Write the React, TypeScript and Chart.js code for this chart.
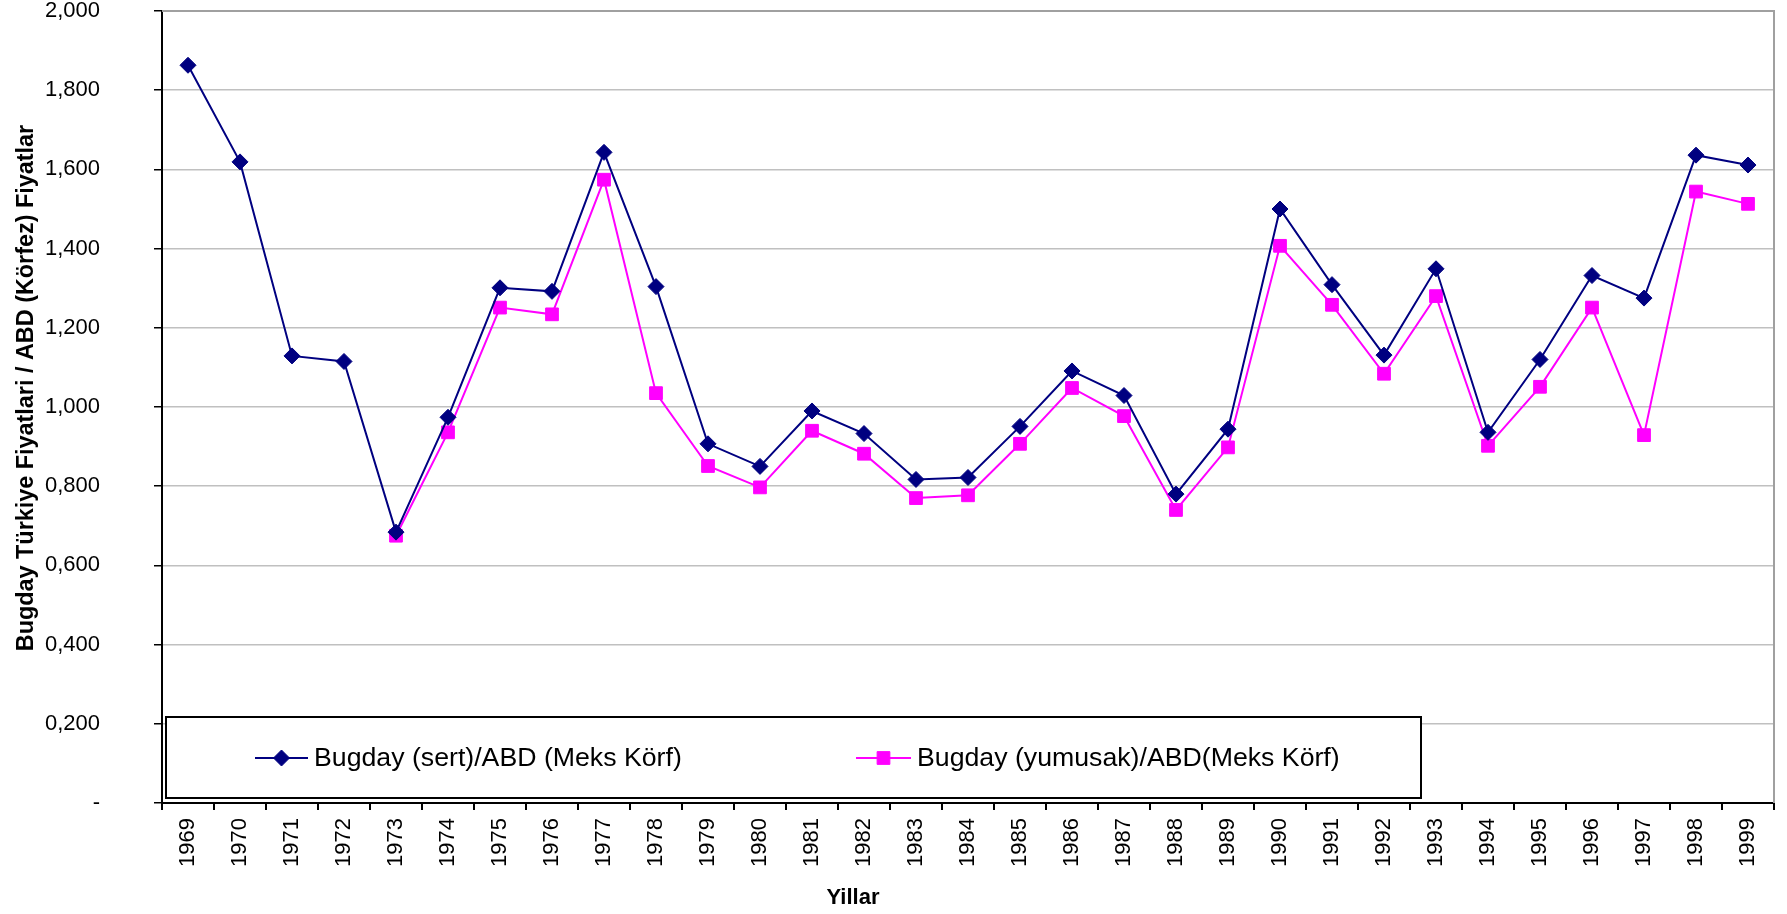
import React, { useEffect, useRef } from "react";
import { Chart, registerables } from "chart.js";

Chart.register(...registerables);

const years: string[] = [
  "1969", "1970", "1971", "1972", "1973", "1974", "1975", "1976", "1977", "1978",
  "1979", "1980", "1981", "1982", "1983", "1984", "1985", "1986", "1987", "1988",
  "1989", "1990", "1991", "1992", "1993", "1994", "1995", "1996", "1997", "1998", "1999",
];

const sertValues: (number | null)[] = [
  1.863, 1.619, 1.129, 1.115, 0.684, 0.974, 1.301, 1.292, 1.643, 1.304,
  0.907, 0.850, 0.990, 0.933, 0.817, 0.822, 0.951, 1.091, 1.029, 0.780,
  0.944, 1.500, 1.309, 1.131, 1.349, 0.936, 1.120, 1.332, 1.275, 1.636, 1.611,
];

const yumusakValues: (number | null)[] = [
  null, null, null, null, 0.675, 0.936, 1.251, 1.234, 1.574, 1.035,
  0.851, 0.797, 0.940, 0.882, 0.770, 0.777, 0.907, 1.048, 0.977, 0.740,
  0.898, 1.407, 1.258, 1.084, 1.280, 0.902, 1.051, 1.251, 0.929, 1.544, 1.513,
];

const seriesLabels: string[] = [
  "Bugday (sert)/ABD (Meks Körf)",
  "Bugday (yumusak)/ABD(Meks Körf)",
];

const yAxisTitle = "Bugday Türkiye Fiyatlari / ABD (Körfez) Fiyatlar";
const xAxisTitle = "Yillar";

const FONT = '"Liberation Sans", Arial, sans-serif';
const NAVY = "#000080";
const MAGENTA = "#FF00FF";
const GRID = "#c0c0c0";
const FRAME = "#a0a0a0";

const W = 1787;
const H = 914;

export default function App() {
  const ref = useRef<HTMLCanvasElement | null>(null);

  useEffect(() => {
    document.body.style.margin = "0";
    const canvas = ref.current;
    if (!canvas) return;

    const overlay = {
      id: "overlay",
      beforeDatasetsDraw(chart: any) {
        const ctx = chart.ctx as CanvasRenderingContext2D;
        const area = chart.chartArea;
        ctx.save();
        ctx.strokeStyle = FRAME;
        ctx.lineWidth = 2;
        ctx.beginPath();
        ctx.moveTo(area.left, area.top);
        ctx.lineTo(area.right, area.top);
        ctx.lineTo(area.right, area.bottom);
        ctx.stroke();
        ctx.fillStyle = "#fff";
        ctx.fillRect(166, 717, 1255, 81);
        ctx.strokeStyle = "#000";
        ctx.lineWidth = 2;
        ctx.strokeRect(166, 717, 1255, 81);
        const items = [
          { x1: 255, x2: 308, tx: 314, color: NAVY, style: "rectRot", r: 8, label: seriesLabels[0] },
          { x1: 856, x2: 911, tx: 917, color: MAGENTA, style: "rect", r: 9, label: seriesLabels[1] },
        ];
        const ly = 758;
        for (const it of items) {
          ctx.strokeStyle = it.color;
          ctx.lineWidth = 2;
          ctx.beginPath();
          ctx.moveTo(it.x1, ly);
          ctx.lineTo(it.x2, ly);
          ctx.stroke();
          ctx.fillStyle = it.color;
          ctx.lineWidth = 1;
          const cx = (it.x1 + it.x2) / 2;
          ctx.beginPath();
          if (it.style === "rectRot") {
            ctx.moveTo(cx, ly - it.r);
            ctx.lineTo(cx + it.r, ly);
            ctx.lineTo(cx, ly + it.r);
            ctx.lineTo(cx - it.r, ly);
            ctx.closePath();
          } else {
            const s = it.r * Math.SQRT1_2;
            ctx.rect(cx - s, ly - s, 2 * s, 2 * s);
          }
          ctx.fill();
          ctx.stroke();
          ctx.fillStyle = "#000";
          ctx.font = `26.7px ${FONT}`;
          ctx.textBaseline = "middle";
          ctx.textAlign = "left";
          ctx.fillText(it.label, it.tx, ly + 1);
        }
        ctx.restore();
      },
      afterDraw(chart: any) {
        const ctx = chart.ctx as CanvasRenderingContext2D;
        ctx.save();
        ctx.fillStyle = "#000";
        ctx.textAlign = "center";
        ctx.textBaseline = "middle";
        ctx.font = `bold 22px ${FONT}`;
        ctx.fillText(xAxisTitle, 853, 898);
        ctx.translate(27, 388);
        ctx.rotate(-Math.PI / 2);
        ctx.font = `bold 23.4px ${FONT}`;
        ctx.fillText(yAxisTitle, 0, 0);
        ctx.restore();
      },
    };

    const chart = new Chart(canvas, {
      type: "line",
      data: {
        labels: years,
        datasets: [
          {
            label: seriesLabels[0],
            data: sertValues,
            borderColor: NAVY,
            backgroundColor: NAVY,
            borderWidth: 2,
            pointStyle: "rectRot",
            pointRadius: 8,
            pointBorderWidth: 1,
            pointBorderColor: NAVY,
            pointBackgroundColor: NAVY,
            tension: 0,
            order: 1,
          },
          {
            label: seriesLabels[1],
            data: yumusakValues,
            borderColor: MAGENTA,
            backgroundColor: MAGENTA,
            borderWidth: 2,
            pointStyle: "rect",
            pointRadius: 9,
            pointBorderWidth: 1,
            pointBorderColor: MAGENTA,
            pointBackgroundColor: MAGENTA,
            tension: 0,
            spanGaps: false,
            order: 2,
          },
        ],
      },
      options: {
        responsive: false,
        animation: false,
        layout: { padding: { left: 0, top: 11, right: 13, bottom: 0 } },
        plugins: {
          legend: { display: false },
          tooltip: { enabled: false },
          title: { display: false },
        },
        scales: {
          x: {
            type: "category",
            offset: true,
            grid: {
              offset: true,
              drawOnChartArea: false,
              color: "#000",
              tickColor: "#000",
              tickLength: 7,
              lineWidth: 2,
            },
            border: { color: "#000", width: 2 },
            ticks: {
              autoSkip: false,
              minRotation: 90,
              maxRotation: 90,
              padding: 8,
              color: "#000",
              font: { family: FONT, size: 22 },
            },
            afterFit: (scale: any) => {
              scale.height = H - 803;
              scale.paddingLeft = 0;
              scale.paddingRight = 0;
            },
          },
          y: {
            min: 0,
            max: 2,
            grid: {
              color: (c: any) => (c.tick && c.tick.value >= 2 ? FRAME : GRID),
              lineWidth: 1.5,
              tickColor: "#000",
              tickLength: 8,
            },
            border: { color: "#000", width: 2 },
            ticks: {
              stepSize: 0.2,
              padding: 54,
              color: "#000",
              font: { family: FONT, size: 22 },
              callback: (v: any) => {
                const n = Number(v);
                if (Math.abs(n) < 1e-9) return "-";
                return n.toFixed(3).replace(".", ",");
              },
            },
            afterFit: (scale: any) => {
              scale.width = 162;
              scale.paddingTop = 0;
              scale.paddingBottom = 0;
            },
          },
        },
      },
      plugins: [overlay],
    });

    return () => {
      chart.destroy();
    };
  }, []);

  return (
    <div style={{ width: W, height: H, position: "relative", overflow: "hidden", background: "#fff" }}>
      <canvas ref={ref} width={W} height={H} style={{ display: "block", width: W, height: H }} />
    </div>
  );
}
